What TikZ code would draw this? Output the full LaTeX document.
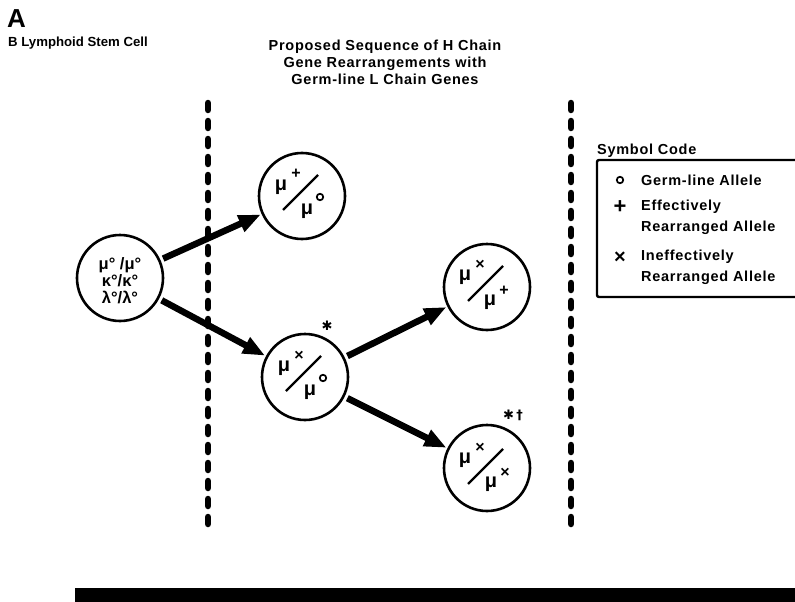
\documentclass[tikz,border=0pt]{standalone}
\usepackage{fontspec}
\setmainfont{Liberation Sans}
\newfontfamily\symf{DejaVu Sans}
\newfontfamily\spf[LetterSpace=5]{Liberation Sans}
\usetikzlibrary{arrows.meta,calc}
\tikzset{
  cell/.style={circle,draw,line width=2.6pt,minimum size=86pt,inner sep=0pt},
  mu/.style={font=\bfseries\fontsize{20}{20}\selectfont,inner sep=0pt},
  supx/.style={font=\bfseries\fontsize{16}{16}\selectfont,inner sep=0pt},
  ring/.style={circle,draw,line width=1.7pt,minimum size=6.5pt,inner sep=0pt},
  slash/.style={line width=2.3pt},
  arr/.style={line width=6.5pt,-{Triangle[length=22pt,width=17pt]},shorten <=3pt,shorten >=1pt},
  divider/.style={line width=6.5pt,line cap=round,dash pattern=on 7pt off 11pt},
  head/.style={font=\spf\bfseries\fontsize{14.5}{17}\selectfont,inner sep=0pt},
  legtxt/.style={font=\spf\bfseries\fontsize{14.5}{20.5}\selectfont,inner sep=0pt,anchor=north west,align=left},
}
\begin{document}
\begin{tikzpicture}[x=1pt,y=-1pt]
\useasboundingbox (0,0) rectangle (795,602);
% titles
\node[anchor=north west,inner sep=0pt,font=\bfseries\fontsize{26}{26}\selectfont] (lblA) at (7,9) {A};
\node[font=\bfseries\fontsize{13.2}{17}\selectfont,inner sep=0pt,anchor=west] (stemlbl) at (8,43) {B Lymphoid Stem Cell};
\node[head,align=center] (title) at (385,62) {Proposed Sequence of H Chain\\Gene Rearrangements with\\Germ-line L Chain Genes};
% dividers
\coordinate (d1t) at (208,103);
\coordinate (d1b) at (208,535);
\coordinate (d2t) at (571,103);
\coordinate (d2b) at (571,535);
\draw[divider] (d1t) -- (d1b);
\draw[divider] (d2t) -- (d2b);
% cells
\node[cell] (c1) at (120,278) {};
\node[cell] (c2) at (302,196) {};
\node[cell] (c3) at (305,377) {};
\node[cell] (c4) at (487,287) {};
\node[cell] (c5) at (487,468) {};
% stem cell text
\node[font=\bfseries\fontsize{16.5}{17}\selectfont,align=center,inner sep=0pt] (stxt) at ($(c1)+(0,3)$) {μ° /μ°\\κ°/κ°\\λ°/λ°};
% c2: mu+ / mu o
\node[mu] (c2a) at ($(c2)+(-21,-9)$) {μ};
\node[supx] (c2as) at ($(c2)+(-6,-22)$) {+};
\draw[slash] ($(c2)+(-19,14)$) coordinate (c2l1) -- ($(c2)+(16,-21)$) coordinate (c2l2);
\node[mu] (c2b) at ($(c2)+(5,15)$) {μ};
\node[ring] (c2bs) at ($(c2)+(18,1)$) {};
% c3: mu x / mu o
\node[mu] (c3a) at ($(c3)+(-21,-9)$) {μ};
\node[supx] (c3as) at ($(c3)+(-6,-21)$) {×};
\draw[slash] ($(c3)+(-19,14)$) coordinate (c3l1) -- ($(c3)+(16,-21)$) coordinate (c3l2);
\node[mu] (c3b) at ($(c3)+(5,15)$) {μ};
\node[ring] (c3bs) at ($(c3)+(18,1)$) {};
\node[font=\symf\bfseries\fontsize{13}{13}\selectfont,inner sep=0pt] (ast1) at (327,326) {✱};
% c4: mu x / mu +
\node[mu] (c4a) at ($(c4)+(-22,-10)$) {μ};
\node[supx] (c4as) at ($(c4)+(-7,-22)$) {×};
\draw[slash] ($(c4)+(-19,14)$) coordinate (c4l1) -- ($(c4)+(16,-21)$) coordinate (c4l2);
\node[mu] (c4b) at ($(c4)+(3,15)$) {μ};
\node[supx] (c4bs) at ($(c4)+(17,4)$) {+};
% c5: mu x / mu x
\node[mu] (c5a) at ($(c5)+(-22,-8)$) {μ};
\node[supx] (c5as) at ($(c5)+(-7,-20)$) {×};
\draw[slash] ($(c5)+(-19,16)$) coordinate (c5l1) -- ($(c5)+(16,-19)$) coordinate (c5l2);
\node[mu] (c5b) at ($(c5)+(4,16)$) {μ};
\node[supx] (c5bs) at ($(c5)+(18,5)$) {×};
\node[font=\symf\bfseries\fontsize{13}{13}\selectfont,inner sep=0pt,anchor=west] (ast2) at (503,415) {✱\,†};
% arrows
\draw[arr] (c1) -- (c2);
\draw[arr] (c1) -- (c3);
\draw[arr] (c3) -- (c4);
\draw[arr] (c3) -- (c5);
% legend
\node[head,anchor=west] (symcode) at (597,151) {Symbol Code};
\draw[line width=2.4pt,rounded corners=2pt] (800,160) -- (597,160) -- (597,297) -- (800,297);
\node[ring] (lg1s) at (620,180) {};
\node[legtxt,anchor=west] (lg1) at (641,180) {Germ-line Allele};
\node[font=\bfseries\fontsize{22}{22}\selectfont,inner sep=0pt] (lg2s) at (620,207) {+};
\node[legtxt] (lg2) at (641,200) {Effectively\\Rearranged Allele};
\node[font=\bfseries\fontsize{20}{20}\selectfont,inner sep=0pt] (lg3s) at (620,258) {×};
\node[legtxt] (lg3) at (641,250) {Ineffectively\\Rearranged Allele};
% bottom bar
\fill (75,588) rectangle (800,602);
\end{tikzpicture}
\end{document}
